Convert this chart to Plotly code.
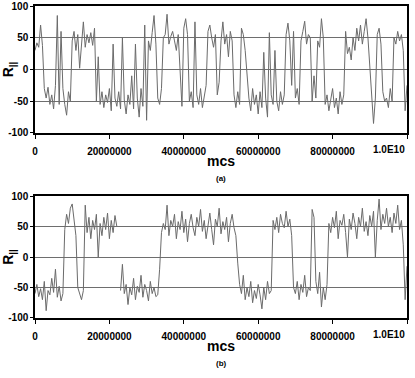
import plotly.graph_objects as go
from plotly.subplots import make_subplots

# time axis: one sample every 0.5 million mcs
step = 500000
mcs = [i * step for i in range(201)]

# panel (a) R_parallel trace
r_a = [30, 42, 35, 70, 38, -30, -45, -28, -55, -40,
       -62, -25, 85, -55, 60, -30, -55, -72, -35, -50,
       45, 60, 30, 55, 2, 40, 75, 35, 55, 42,
       58, 38, 65, -50, 20, -55, -35, -60, -40, -52,
       -30, -65, 40, -45, -58, -35, -62, 50, -48, -70,
       -40, -55, -10, -62, 40, -45, -75, -30, -58, 70,
       -80, 45, 30, 58, 85, 40, -45, -55, -30, 50,
       55, 87, 40, 52, 60, 45, 30, 55, -10, -58,
       65, 80, 55, -50, -35, -60, 75, -40, -55, -30,
       -60, -45, -25, 60, 70, 50, 35, 55, -40, -20,
       45, 75, 40, 55, 20, 60, 45, -40, -60, -35,
       -55, 65, 55, 30, -10, -45, -65, -30, -55, -40,
       -70, -35, -60, 27, -45, -75, 58, -40, -55, 30,
       -50, -65, -35, -55, -40, 55, 73, 45, -25, 60,
       -45, -30, -55, 45, 60, 76, 40, 55, 50, -50,
       -10, -45, 45, 35, 80, 50, -55, -40, -65, -45,
       -30, -60, -45, -70, -35, -55, -40, 60, 25, 35,
       15, 50, 30, 65, 45, 70, 40, 60, 80, 50,
       0, -55, -85, -45, 55, 65, 40, -35, -50, -45,
       -60, -30, -50, 50, 40, 60, 45, 55, 30, -65, -25]

# panel (b) R_parallel trace (None = gap in the record)
r_b = [-60, -45, -65, -52, -70, -40, -88, -55, -62, -35,
       -58, -20, -66, -48, -72, -60, 45, 70, 55, 80,
       87, 60, 35, -50, -62, -70, -55, 85, 40, 65,
       30, 60, 45, 70, 0, 55, 35, 65, 45, 72,
       30, 60, 40, 68, 50, None, -55, -12, -60, -45,
       -78, -50, -62, -35, -70, -48, -58, -30, -66, -45,
       -55, -72, -40, -60, -50, -65, -62, -20, 40, 55,
       45, 85, 35, 60, 50, 70, 30, 58, 45, 75,
       40, 62, 25, 55, 70, 48, 35, 65, 50, 78,
       42, 60, 30, 55, 72, 45, 20, 62, 50, 80,
       38, 58, 45, 65, 25, 55, 70, 48, 35, -10,
       -45, -60, -30, -70, -50, -65, -40, -75, -55, -68,
       -45, -62, -85, -50, -70, -40, -60, -55, 60, 45,
       65, 40, 70, 55, 48, 75, 50, 62, 35, -50,
       -60, -40, -70, -45, -58, -30, -65, -50, -55, 78,
       65, -40, -60, -25, -82, -50, -70, -45, 55, 40,
       65, 48, 75, 30, 60, 52, 70, 40, 0, 62,
       45, 72, 55, 30, 65, 50, 80, 42, 58, 35,
       68, 50, 75, 0, 60, 95, 45, 70, 55, 80,
       50, 65, 40, 72, 55, 85, 45, 60, 20, -70, -15]

x_ticks = [0, 20000000, 40000000, 60000000, 80000000, 100000000]
x_ticktext = ["0", "20000000", "40000000", "60000000", "80000000", " "]
y_ticks = [-100, -50, 0, 50, 100]

fig = make_subplots(rows=2, cols=1, vertical_spacing=0.2)

fig.add_trace(go.Scatter(x=mcs, y=r_a, mode="lines",
                         line=dict(color="#6b6b6b", width=1)), row=1, col=1)
fig.add_trace(go.Scatter(x=mcs, y=r_b, mode="lines", connectgaps=False,
                         line=dict(color="#6b6b6b", width=1)), row=2, col=1)

fam = "Liberation Sans, Arial"
fnt = dict(family=fam, size=10, color="black")

for r in (1, 2):
    fig.update_xaxes(range=[0, 100000000], tickvals=x_ticks,
                     ticktext=["<b>%s</b>" % t for t in x_ticktext],
                     showgrid=False, zeroline=False, showline=True, mirror=True,
                     linecolor="black", linewidth=1.5, ticks="outside", ticklen=4,
                     tickcolor="black", tickfont=fnt, automargin=False,
                     ticklabelstandoff=4,
                     title=dict(text="<b>mcs</b>", standoff=0,
                                font=dict(family=fam, size=14)),
                     row=r, col=1)
    fig.update_yaxes(range=[-100, 100], tickvals=y_ticks,
                     ticktext=["<b>%d</b>" % v for v in y_ticks],
                     showgrid=True, gridcolor="#6e6e6e", gridwidth=1, zeroline=False,
                     showline=True, mirror=True, linecolor="black", linewidth=1.5,
                     ticks="outside", ticklen=3, tickcolor="black", tickfont=fnt,
                     automargin=False,
                     title=dict(text="<b>R<sub>||</sub></b>", standoff=2,
                                font=dict(family=fam, size=14)),
                     row=r, col=1)

fig.update_layout(xaxis=dict(domain=[0, 1]), yaxis=dict(domain=[0.593, 1.0]),
                  xaxis2=dict(domain=[0, 1]), yaxis2=dict(domain=[0.0, 0.391]))

# last x tick label sits right-aligned against the plot edge
for xr, yr in (("x", "y domain"), ("x2", "y2 domain")):
    fig.add_annotation(x=100000000, y=0, xref=xr, yref=yr,
                       text="<b>1.0E10</b>", showarrow=False,
                       xanchor="right", yanchor="top", yshift=-9, font=fnt)

fig.add_annotation(x=0.5, y=0.593, xref="paper", yref="paper", yshift=-39,
                   text="<b>(a)</b>", showarrow=False, yanchor="top",
                   font=dict(family=fam, size=8))
fig.add_annotation(x=0.5, y=0.0, xref="paper", yref="paper", yshift=-39,
                   text="<b>(b)</b>", showarrow=False, yanchor="top",
                   font=dict(family=fam, size=8))

fig.update_layout(width=415, height=378, showlegend=False,
                  margin=dict(l=35, r=8, t=6, b=60, autoexpand=False),
                  paper_bgcolor="white", plot_bgcolor="white",
                  font=dict(family=fam, color="black"))

fig.write_html("out.html", config={"displayModeBar": False},
               post_script="document.body.style.margin='0';document.body.style.padding='0';")
